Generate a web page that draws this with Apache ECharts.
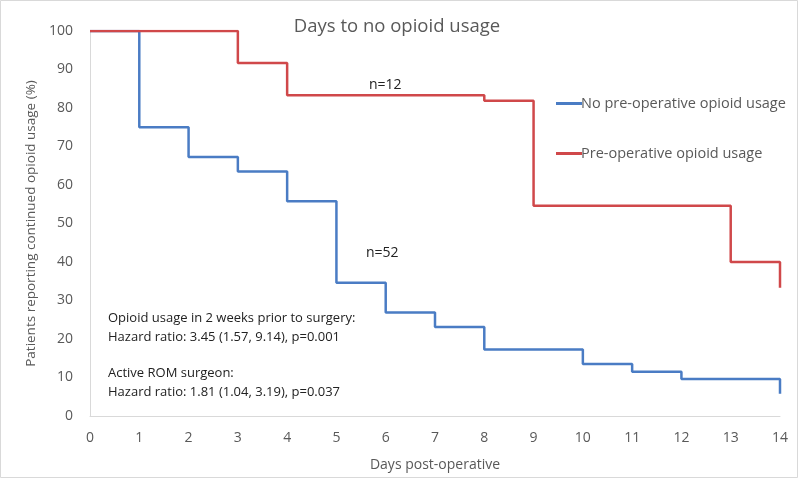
<!DOCTYPE html>
<html><head><meta charset="utf-8">
<script src="https://cdn.jsdelivr.net/npm/echarts@6/dist/echarts.min.js"></script>
<style>html,body{margin:0;padding:0;background:#fff}#c{width:800px;height:481px}</style>
</head><body><div id="c"></div>
<script>
const days = [0,1,2,3,4,5,6,7,8,9,10,11,12,13,14];
const noPreopX = [0,1,2,3,4,5,6,7,8,10,11,12,14];
const noPreopY = [100,75,67.3,63.5,55.8,34.6,26.9,23.1,17.3,13.5,11.5,9.6,5.8];
const preopX = [0,3,4,8,9,13,14];
const preopY = [100,91.7,83.3,81.9,54.6,40,33.3];
const yTicks = [0,10,20,30,40,50,60,70,80,90,100];
const seriesNames = ['No pre-operative opioid usage','Pre-operative opioid usage'];

const font = 'Open Sans, Noto Sans, sans-serif';
const grey = '#595959';
const chart = echarts.init(document.getElementById('c'));
chart.setOption({
  animation:false,
  backgroundColor:'#fff',
  grid:{left:90, right:20, top:31, bottom:65},
  legend:{orient:'vertical', left:551, top:91, itemGap:35, itemWidth:26, itemHeight:3, icon:'rect',
    textStyle:{fontFamily:font, fontSize:14.5, color:grey, padding:[0,0,0,-6]},
    data:seriesNames},
  xAxis:{type:'value', min:days[0], max:days[days.length-1], interval:1,
    name:'Days post-operative', nameLocation:'middle', nameGap:42,
    nameTextStyle:{fontFamily:font, fontSize:14, color:grey},
    axisLine:{show:true, lineStyle:{color:'#d9d9d9', width:1}},
    axisTick:{show:false}, splitLine:{show:false},
    axisLabel:{fontFamily:font, fontSize:14, color:grey, margin:15}},
  yAxis:{type:'value', min:yTicks[0], max:yTicks[yTicks.length-1], interval:10,
    name:'Patients reporting continued opioid usage (%)', nameLocation:'middle', nameGap:50,
    nameTextStyle:{fontFamily:font, fontSize:13.5, color:grey},
    axisLine:{show:true, lineStyle:{color:'#d9d9d9', width:1}},
    axisTick:{show:false}, splitLine:{show:false},
    axisLabel:{fontFamily:font, fontSize:14, color:grey, margin:17}},
  series:[
    {name:seriesNames[0], type:'line', step:'end', symbol:'none',
     lineStyle:{color:'#4a7cc4', width:2.5}, itemStyle:{color:'#4a7cc4'},
     data:noPreopX.map((x,i)=>[x,noPreopY[i]])},
    {name:seriesNames[1], type:'line', step:'end', symbol:'none',
     lineStyle:{color:'#d0484a', width:2.5}, itemStyle:{color:'#d0484a'},
     data:preopX.map((x,i)=>[x,preopY[i]])}
  ],
  graphic:[
    {type:'rect', shape:{x:0.5,y:0.5,width:797,height:477}, style:{fill:'none', stroke:'#d9d9d9', lineWidth:1}, silent:true},
    {type:'text', x:397, y:27, style:{text:'Days to no opioid usage', fontFamily:font, fontSize:18.5, fill:grey, align:'center', verticalAlign:'middle'}},
    {type:'text', x:369, y:85, style:{text:'n=12', fontFamily:font, fontSize:14, fill:'#222', verticalAlign:'middle'}},
    {type:'text', x:366, y:253, style:{text:'n=52', fontFamily:font, fontSize:14, fill:'#222', verticalAlign:'middle'}},
    {type:'text', x:108, y:318, style:{text:'Opioid usage in 2 weeks prior to surgery:', fontFamily:font, fontSize:13, fill:'#222', verticalAlign:'middle'}},
    {type:'text', x:108, y:337, style:{text:'Hazard ratio: 3.45 (1.57, 9.14), p=0.001', fontFamily:font, fontSize:13, fill:'#222', verticalAlign:'middle'}},
    {type:'text', x:108, y:373, style:{text:'Active ROM surgeon:', fontFamily:font, fontSize:13, fill:'#222', verticalAlign:'middle'}},
    {type:'text', x:108, y:392, style:{text:'Hazard ratio: 1.81 (1.04, 3.19), p=0.037', fontFamily:font, fontSize:13, fill:'#222', verticalAlign:'middle'}}
  ]
});
</script></body></html>
